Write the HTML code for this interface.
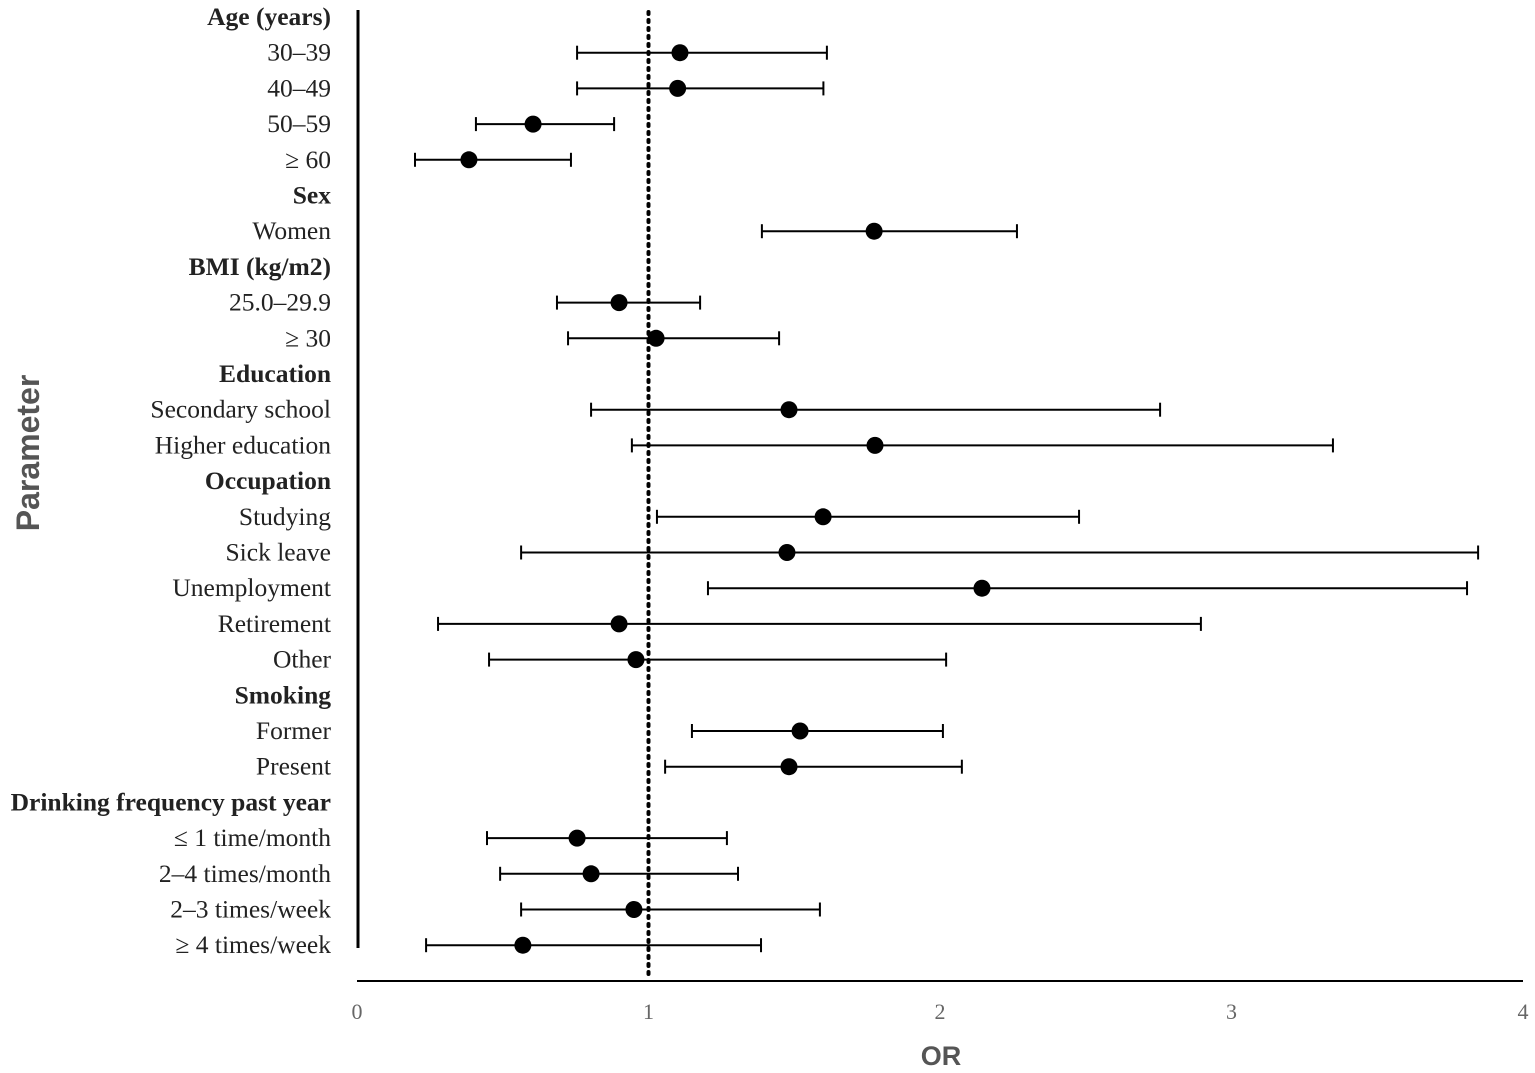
<!DOCTYPE html>
<html><head><meta charset="utf-8"><style>
html,body{margin:0;padding:0;background:#fff;}
svg{display:block;font-family:"Liberation Serif",serif;}
</style></head><body>
<svg id="chart" width="1535" height="1073" viewBox="0 0 1535 1073">
<g id="labels"></g>
<g id="marks"></g>
<line x1="358" y1="10" x2="358" y2="948" stroke="#000" stroke-width="3"/>
<line x1="357" y1="981" x2="1523" y2="981" stroke="#000" stroke-width="2"/>
<g id="ticks"></g>
<text x="941" y="1065" text-anchor="middle" font-family="Liberation Sans,sans-serif" font-weight="bold" font-size="27" fill="#555">OR</text>
<text transform="translate(39,453) rotate(-90)" text-anchor="middle" font-family="Liberation Sans,sans-serif" font-weight="bold" font-size="32" fill="#555">Parameter</text>
</svg>
<script>
const rowLabels = ["Age (years)","30–39","40–49","50–59","≥ 60","Sex","Women","BMI (kg/m2)","25.0–29.9","≥ 30","Education","Secondary school","Higher education","Occupation","Studying","Sick leave","Unemployment","Retirement","Other","Smoking","Former","Present","Drinking frequency past year","≤ 1 time/month","2–4 times/month","2–3 times/week","≥ 4 times/week"];
const isHeader = [1,0,0,0,0,1,0,1,0,0,1,0,0,1,0,0,0,0,0,1,0,0,1,0,0,0,0];
const orValues = [null,1.108,1.10,0.604,0.384,null,1.774,null,0.899,1.026,null,1.482,1.777,null,1.599,1.475,2.144,0.899,0.957,null,1.520,1.482,null,0.755,0.803,0.950,0.569];
const ciLow = [null,0.755,0.755,0.408,0.199,null,1.389,null,0.686,0.724,null,0.803,0.943,null,1.029,0.563,1.204,0.278,0.453,null,1.149,1.057,null,0.446,0.491,0.563,0.237];
const ciHigh = [null,1.612,1.60,0.882,0.734,null,2.264,null,1.177,1.448,null,2.755,3.348,null,2.477,3.846,3.808,2.895,2.021,null,2.010,2.075,null,1.269,1.307,1.588,1.386];
const xTicks = [0,1,2,3,4];
const refValue = 1;

const NS="http://www.w3.org/2000/svg";
const xScale = v => 357 + v*291.5;
const yScale = i => 17 + i*35.7;
function mk(tag, attrs){const e=document.createElementNS(NS,tag);for(const k in attrs)e.setAttribute(k,attrs[k]);return e;}
const labels=document.getElementById('labels'), marks=document.getElementById('marks'), ticks=document.getElementById('ticks');

rowLabels.forEach((t,i)=>{
  const e=mk('text',{x:331,y:yScale(i)+8,'text-anchor':'end','font-size':25.5,fill:'#222'});
  if(isHeader[i]) e.setAttribute('font-weight','bold');
  e.textContent=t;
  
  
  labels.appendChild(e);
});

const ref=mk('line',{x1:xScale(refValue),y1:12,x2:xScale(refValue),y2:978,stroke:'#000','stroke-width':4,'stroke-dasharray':'2 6','stroke-linecap':'round'});


marks.appendChild(ref);

orValues.forEach((v,i)=>{
  if(v===null) return;
  const y=yScale(i);
  const g=mk('g',{});
  
  
  g.appendChild(mk('line',{x1:xScale(ciLow[i]),y1:y,x2:xScale(ciHigh[i]),y2:y,stroke:'#000','stroke-width':2}));
  g.appendChild(mk('line',{x1:xScale(ciLow[i]),y1:y-7,x2:xScale(ciLow[i]),y2:y+7,stroke:'#000','stroke-width':2}));
  g.appendChild(mk('line',{x1:xScale(ciHigh[i]),y1:y-7,x2:xScale(ciHigh[i]),y2:y+7,stroke:'#000','stroke-width':2}));
  const c=mk('circle',{cx:xScale(v),cy:y,r:8.5,fill:'#000'});
  
  
  g.appendChild(c);
  marks.appendChild(g);
});

xTicks.forEach(t=>{
  const e=mk('text',{x:xScale(t),y:1019,'text-anchor':'middle','font-size':22,fill:'#666'});
  e.textContent=t;
  
  
  ticks.appendChild(e);
});
</script>
</body></html>
